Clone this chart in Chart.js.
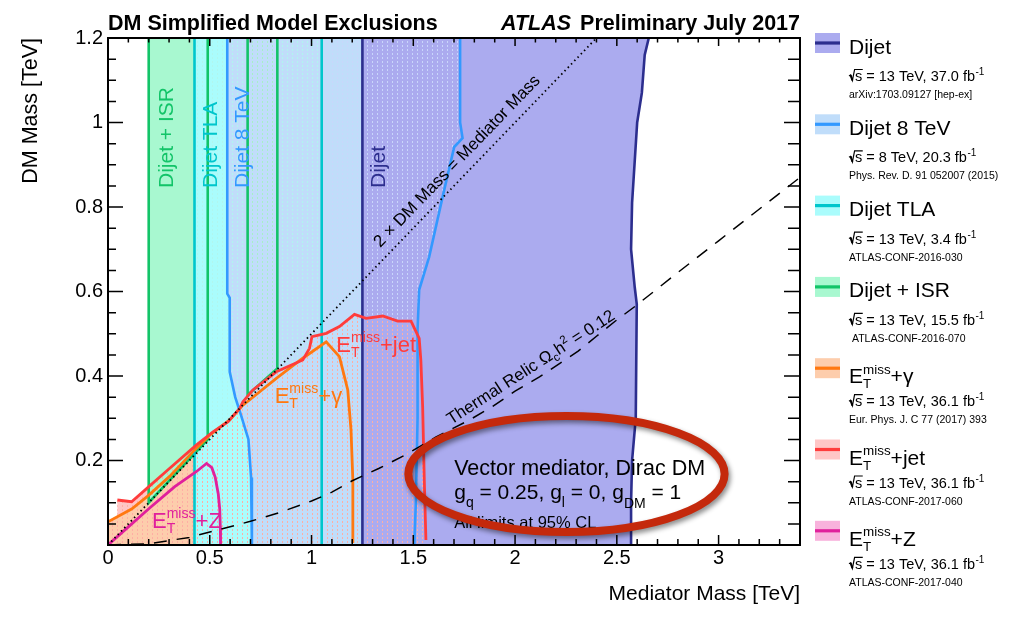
<!DOCTYPE html>
<html>
<head>
<meta charset="utf-8">
<script src="https://cdn.jsdelivr.net/npm/chart.js@4/dist/chart.umd.min.js"></script>
<style>
html, body { margin: 0; padding: 0; background: #fff; }
canvas { display: block; }
</style>
</head>
<body>
<canvas id="c" width="1029" height="620"></canvas>
<script>
// ---- Exclusion contours: [mediator mass (TeV), DM mass (TeV)] ----
const dijetLeft   = [[1.25, 1.2], [1.25, 0]];
const dijetRight  = [[2.57, 0], [2.57, 0.1], [2.575, 0.2], [2.593, 0.3], [2.598, 0.57], [2.588, 0.61],
                     [2.57, 0.7], [2.575, 0.81], [2.6, 1.0], [2.623, 1.07], [2.637, 1.16], [2.657, 1.2]];
const dijet8Left  = [[0.586, 1.2], [0.586, 0.595], [0.598, 0.585], [0.598, 0.41], [0.625, 0.35], [0.655, 0.305],
                     [0.69, 0.25], [0.703, 0.16], [0.707, 0.05], [0.707, 0]];
const dijet8Right = [[1.505, 0], [1.513, 0.107], [1.521, 0.3], [1.521, 0.51], [1.529, 0.604], [1.578, 0.682],
                     [1.644, 0.824], [1.701, 0.942], [1.742, 0.963], [1.73, 1.0], [1.73, 1.2]];
const tlaLeft     = [[0.425, 1.2], [0.425, 0]];
const tlaRight    = [[1.05, 0], [1.05, 1.2]];
const isrLow      = [[0.2, 1.2], [0.2, 0.1], [0.49, 0.25], [0.49, 1.2]];
const isrHigh     = [[0.686, 1.2], [0.686, 0.355], [0.832, 0.418], [0.832, 1.2]];
const metJet      = [[0.046, 0.1065], [0.116, 0.1025], [0.198, 0.137], [0.288, 0.175], [0.435, 0.237], [0.516, 0.268],
                     [0.59, 0.292], [0.647, 0.3235], [0.663, 0.339], [0.712, 0.367], [0.827, 0.41], [0.957, 0.438],
                     [0.99, 0.4655], [1.002, 0.493], [1.072, 0.501], [1.137, 0.517], [1.211, 0.546], [1.268, 0.5365],
                     [1.35, 0.542], [1.423, 0.53], [1.489, 0.53], [1.529, 0.489], [1.537, 0.438], [1.546, 0.327],
                     [1.554, 0.154], [1.562, 0.012]];
const metGamma    = [[0, 0.055], [0.116, 0.085], [0.198, 0.117], [0.304, 0.163], [0.418, 0.221], [0.5, 0.26],
                     [0.598, 0.296], [0.663, 0.331], [0.827, 0.3945], [0.957, 0.442], [1.072, 0.481], [1.137, 0.446],
                     [1.178, 0.367], [1.194, 0.272], [1.203, 0.154], [1.203, 0.005]];
const metZ        = [[0, 0], [0.1, 0.043], [0.206, 0.088], [0.328, 0.138], [0.435, 0.174], [0.484, 0.193],
                     [0.51, 0.183], [0.527, 0.16], [0.542, 0.12], [0.549, 0.085], [0.552, 0.04], [0.553, 0]];
const relicLine   = [[0, 0], [0.2, 0.003], [0.4, 0.018], [0.55, 0.037], [0.7, 0.056], [0.85, 0.078], [1.0, 0.104],
                     [1.1, 0.125], [1.2, 0.152], [1.33, 0.181], [1.46, 0.213], [1.61, 0.255], [1.78, 0.297],
                     [1.89, 0.328], [2.0, 0.364], [2.12, 0.398], [2.22, 0.43], [2.31, 0.459], [2.4, 0.494],
                     [2.49, 0.529], [2.59, 0.565], [2.8, 0.645], [3.0, 0.72], [3.245, 0.812], [3.4, 0.87]];
const diagonal    = [[0, 0], [2.4, 1.2]];

// ---- Axis ticks (the zero on the DM axis is left unlabelled) ----
const xTickValues = [0, 0.5, 1, 1.5, 2, 2.5, 3];
const xTickLabels = ['0', '0.5', '1', '1.5', '2', '2.5', '3'];
const yTickValues = [0, 0.2, 0.4, 0.6, 0.8, 1, 1.2];
const yTickLabels = ['', '0.2', '0.4', '0.6', '0.8', '1', '1.2'];

// ---- Legend text ----
const legendTitles = ['Dijet', 'Dijet 8 TeV', 'Dijet TLA', 'Dijet + ISR', 'E_T^miss+γ', 'E_T^miss+jet', 'E_T^miss+Z'];
const legendEnergy = ['13', '8', '13', '13', '13', '13', '13'];
const legendLumi   = ['37.0', '20.3', '3.4', '15.5', '36.1', '36.1', '36.1'];
const legendRefs   = ['arXiv:1703.09127 [hep-ex]', 'Phys. Rev. D. 91 052007 (2015)', 'ATLAS-CONF-2016-030',
                      ' ATLAS-CONF-2016-070', 'Eur. Phys. J. C 77 (2017) 393', 'ATLAS-CONF-2017-060', 'ATLAS-CONF-2017-040'];

// ---- Styles ----
const FF = '"Liberation Sans", Arial, Helvetica, sans-serif';
const font = (size, weight, style) => [style || '', weight || '', size + 'px', FF].join(' ').trim();
const COL = {
  dijetFill: '#ababef', dijetLine: '#2c2e8e',
  d8Fill: '#c0ddfa',    d8Line: '#3399ff',
  tlaFill: '#aafcfc',   tlaLine: '#00c6cc',
  isrFill: '#a8f8d0',   isrLine: '#12c468',
  gamFill: '#fdcdac',   gamLine: '#ff7810',
  jetFill: '#ffc6c6',   jetLine: '#ff3c3c',
  zFill: '#f8b2dc',     zLine: '#e0209c'
};
const legendFill = [COL.dijetFill, COL.d8Fill, COL.tlaFill, COL.isrFill, COL.gamFill, COL.jetFill, COL.zFill];
const legendLine = [COL.dijetLine, COL.d8Line, COL.tlaLine, COL.isrLine, COL.gamLine, COL.jetLine, COL.zLine];

// small dotted texture used where two exclusion areas overlap
function dots(color) {
  const t = document.createElement('canvas');
  t.width = 5; t.height = 4;
  const g = t.getContext('2d');
  g.fillStyle = color;
  g.fillRect(2, 1, 1, 2);
  return g.createPattern(t, 'repeat');
}

const toXY = pts => pts.map(p => ({ x: p[0], y: p[1] }));

// closed areas
const dijetArea  = dijetLeft.concat(dijetRight);
const dijet8Area = dijet8Left.concat(dijet8Right);
const tlaArea    = tlaLeft.concat(tlaRight);
const jetArea    = [[0.046, 0]].concat(metJet, [[1.562, 0]]);
const gamArea    = [[0, 0]].concat(metGamma, [[1.203, 0]]);
const zArea      = metZ;

const layers = [];
const addFill = (pts, color) => layers.push({ data: toXY(pts), backgroundColor: color,
  borderColor: 'rgba(0,0,0,0)', borderWidth: 0, fill: 'shape' });
const addLine = (pts, color, width, dash) => layers.push({ data: toXY(pts), borderColor: color,
  borderWidth: width, borderDash: dash || [], fill: false, backgroundColor: 'rgba(0,0,0,0)' });

// bottom to top
addFill(zArea, COL.zFill);
addFill(jetArea, COL.jetFill);
addFill(gamArea, COL.gamFill);
addFill(isrLow, COL.isrFill);
addFill(isrHigh, COL.isrFill);
addFill(tlaArea, COL.tlaFill);
addFill(dijet8Area, COL.d8Fill);
addFill(dijetArea, COL.dijetFill);
addFill(dijet8Area, dots('#c9d6fb'));
addFill(tlaArea, dots('#b0f6ee'));
addFill(isrHigh, dots('#a6efc8'));
addFill(jetArea, dots('#ffaea4'));
addFill(gamArea, dots('#ffaea4'));

addLine(isrLow, COL.isrLine, 2.6);
addLine(isrHigh, COL.isrLine, 2.6);
addLine(tlaLeft, COL.tlaLine, 2.6);
addLine(tlaRight, COL.tlaLine, 2.6);
addLine(dijet8Left, COL.d8Line, 2.6);
addLine(dijet8Right, COL.d8Line, 2.6);
addLine(dijetLeft, COL.dijetLine, 2.6);
addLine(dijetRight, COL.dijetLine, 2.6);
addLine(metZ, COL.zLine, 2.8);
addLine(metGamma, COL.gamLine, 2.8);
addLine(metJet, COL.jetLine, 2.8);
addLine(diagonal, '#000', 1.8, [1.5, 3.2]);
addLine(relicLine, '#000', 1.5, [13, 10]);

const datasets = layers.map((d, i) => Object.assign({
  showLine: true, pointRadius: 0, pointHoverRadius: 0, tension: 0, order: layers.length - i
}, d));

// E_T^miss label with subscript / superscript
function drawMet(ctx, x, y, size, suffix) {
  ctx.textAlign = 'left';
  ctx.textBaseline = 'alphabetic';
  ctx.font = font(size);
  ctx.fillText('E', x, y);
  const wE = ctx.measureText('E').width;
  ctx.font = font(size * 0.64);
  ctx.fillText('T', x + wE, y + size * 0.24);
  ctx.fillText('miss', x + wE, y - size * 0.46);
  const w = Math.max(ctx.measureText('T').width, ctx.measureText('miss').width);
  ctx.font = font(size);
  ctx.fillText(suffix, x + wE + w, y);
}

// sequence of text pieces: [text, size, baseline shift]
function drawPieces(ctx, x, y, pieces) {
  let cx = x;
  for (const [t, size, dy] of pieces) {
    ctx.font = font(size);
    ctx.fillText(t, cx, y + dy);
    cx += ctx.measureText(t).width;
  }
}

const frameTicks = {
  id: 'frameTicks',
  afterDatasetsDraw(chart) {
    const { ctx, chartArea: a, scales: { x, y } } = chart;
    ctx.save();
    ctx.strokeStyle = '#000';
    ctx.lineWidth = 1.5;
    ctx.beginPath();
    for (let i = 0; i <= 34; i++) {
      const px = x.getPixelForValue(i / 10);
      const major = i % 5 === 0;
      ctx.moveTo(px, a.bottom); ctx.lineTo(px, a.bottom - (major ? 10 : 6));
      ctx.moveTo(px, a.top); ctx.lineTo(px, a.top + (major ? 8 : 4.5));
    }
    for (let i = 0; i <= 24; i++) {
      const py = y.getPixelForValue(i * 0.05);
      const major = i % 4 === 0;
      ctx.moveTo(a.left, py); ctx.lineTo(a.left + (major ? 15 : 8), py);
      ctx.moveTo(a.right, py); ctx.lineTo(a.right - (major ? 16 : 12), py);
    }
    ctx.stroke();
    ctx.lineWidth = 2;
    ctx.strokeRect(a.left, a.top, a.right - a.left, a.bottom - a.top);
    ctx.restore();
  }
};

const notes = {
  id: 'notes',
  afterDatasetsDraw(chart) {
    const { ctx, scales: { x, y } } = chart;
    const px = v => x.getPixelForValue(v);
    const py = v => y.getPixelForValue(v);
    ctx.save();
    ctx.textBaseline = 'alphabetic';
    ctx.textAlign = 'left';

    // vertical analysis names
    const vLabel = (text, xv, yv, color) => {
      ctx.save();
      ctx.translate(px(xv), py(yv));
      ctx.rotate(-Math.PI / 2);
      ctx.fillStyle = color;
      ctx.font = font(21);
      ctx.fillText(text, 0, 0);
      ctx.restore();
    };
    vLabel('Dijet + ISR', 0.319, 0.845, COL.isrLine);
    vLabel('Dijet TLA', 0.534, 0.845, COL.tlaLine);
    vLabel('Dijet 8 TeV', 0.691, 0.845, COL.d8Line);
    vLabel('Dijet', 1.363, 0.845, COL.dijetLine);

    // mono-X labels
    ctx.fillStyle = COL.jetLine;
    drawMet(ctx, px(1.122), py(0.457), 22, '+jet');
    ctx.fillStyle = COL.gamLine;
    drawMet(ctx, px(0.819), py(0.336), 22, '+γ');
    ctx.fillStyle = COL.zLine;
    drawMet(ctx, px(0.216), py(0.040), 22, '+Z');

    // diagonal label
    ctx.fillStyle = '#000';
    ctx.save();
    const d0 = diagonal[0], d1 = diagonal[1];
    const angD = Math.atan2(py(d1[1]) - py(d0[1]), px(d1[0]) - px(d0[0]));
    ctx.translate(px(1.338), py(0.703));
    ctx.rotate(angD);
    ctx.font = font(17);
    ctx.fillText('2 × DM Mass = Mediator Mass', 0, 0);
    ctx.restore();

    // relic label
    ctx.save();
    const angR = Math.atan2(py(0.529) - py(0.255), px(2.49) - px(1.61));
    ctx.translate(px(1.686), py(0.284));
    ctx.rotate(angR);
    drawPieces(ctx, 0, 0, [['Thermal Relic ', 17, 0], ['Ω', 17, 0], ['c', 11.5, 4], ['h', 17, 0],
      ['2', 11.5, -7], [' = 0.12', 17, 0]]);
    ctx.restore();

    // model description
    drawPieces(ctx, px(1.701), py(0.1657), [['Vector mediator, Dirac DM', 21.5, 0]]);
    drawPieces(ctx, px(1.701), py(0.109), [['g', 21, 0], ['q', 14, 8], [' = 0.25, g', 21, 0], ['l', 14, 8],
      [' = 0, g', 21, 0], ['DM', 14, 9], [' = 1', 21, 0]]);
    drawPieces(ctx, px(1.701), py(0.0403), [['All limits at 95% CL', 16.5, 0]]);

    // highlight ring
    const cx = px(2.2525), cy = py(0.168);
    const rx = px(2.2525 + 0.777) - cx, ry = cy - py(0.168 + 0.1373);
    ctx.save();
    ctx.shadowColor = 'rgba(0,0,0,0.45)';
    ctx.shadowBlur = 5;
    ctx.shadowOffsetX = 2;
    ctx.shadowOffsetY = 3;
    ctx.strokeStyle = '#c4290c';
    ctx.lineWidth = 8;
    ctx.beginPath();
    ctx.ellipse(cx, cy, rx, ry, 0, 0, Math.PI * 2);
    ctx.stroke();
    ctx.restore();
    ctx.restore();
  }
};

const panel = {
  id: 'panel',
  afterDraw(chart) {
    const { ctx, chartArea: a } = chart;
    ctx.save();
    ctx.fillStyle = '#000';
    ctx.textBaseline = 'alphabetic';

    // header
    ctx.textAlign = 'left';
    ctx.font = font(21.5, 'bold');
    ctx.fillText('DM Simplified Model Exclusions', a.left, 29.5);
    ctx.textAlign = 'right';
    const tail = 'Preliminary July 2017';
    ctx.fillText(tail, a.right, 29.5);
    const wTail = ctx.measureText(tail).width;
    ctx.font = font(21.5, 'bold', 'italic');
    ctx.fillText('ATLAS', a.right - wTail - 9, 29.5);

    // legend
    ctx.textAlign = 'left';
    const sx = a.right + 15;
    const tx = a.right + 49;
    legendTitles.forEach((title, i) => {
      const c = 43 + 81.3 * i;
      ctx.fillStyle = legendFill[i];
      ctx.fillRect(sx, c - 10, 25, 20);
      ctx.fillStyle = legendLine[i];
      ctx.fillRect(sx, c - 1.6, 25, 3.2);
      ctx.fillStyle = '#000';
      if (title.startsWith('E_T^miss')) {
        drawMet(ctx, tx, c + 15, 21, title.slice(8));
      } else {
        ctx.font = font(21);
        ctx.fillText(title, tx, c + 10.5);
      }
      // sqrt(s) line
      const b = c + 38;
      ctx.font = font(14.5);
      const sw = ctx.measureText('s').width;
      ctx.strokeStyle = '#000';
      ctx.lineWidth = 1.2;
      ctx.beginPath();
      ctx.moveTo(tx, b - 5);
      ctx.lineTo(tx + 1.6, b - 6);
      ctx.lineTo(tx + 3.4, b - 0.5);
      ctx.lineTo(tx + 5.6, b - 11.5);
      ctx.lineTo(tx + 6.5 + sw, b - 11.5);
      ctx.stroke();
      ctx.lineWidth = 2;
      ctx.beginPath();
      ctx.moveTo(tx + 1.6, b - 6);
      ctx.lineTo(tx + 3.4, b - 0.5);
      ctx.stroke();
      ctx.fillText('s', tx + 6, b);
      const main = ' = ' + legendEnergy[i] + ' TeV, ' + legendLumi[i] + ' fb';
      ctx.fillText(main, tx + 6 + sw, b);
      const wm = ctx.measureText(main).width;
      ctx.font = font(10);
      ctx.fillText('-1', tx + 6.5 + sw + wm, b - 6);
      // reference
      ctx.font = font(10.5);
      ctx.fillText(legendRefs[i], tx, c + 55);
    });
    ctx.restore();
  }
};

new Chart(document.getElementById('c'), {
  type: 'line',
  data: { datasets },
  options: {
    responsive: false,
    animation: false,
    devicePixelRatio: 1,
    events: [],
    layout: { padding: { left: 0, right: 229, top: 38, bottom: 0 } },
    plugins: { legend: { display: false }, tooltip: { enabled: false } },
    elements: { point: { radius: 0 } },
    scales: {
      x: {
        type: 'linear', min: 0, max: 3.4,
        grid: { display: false, drawTicks: false },
        border: { display: false },
        afterBuildTicks: s => { s.ticks = xTickValues.map(v => ({ value: v })); },
        afterFit: s => { s.height = 75; },
        ticks: { font: { family: FF, size: 20 }, color: '#000', padding: 1, maxRotation: 0,
                 autoSkip: false, callback: (v, i) => xTickLabels[i] },
        title: { display: true, text: 'Mediator Mass [TeV]', align: 'end', color: '#000',
                 font: { family: FF, size: 21 }, padding: { top: 0, bottom: 13 } }
      },
      y: {
        type: 'linear', min: 0, max: 1.2,
        grid: { display: false, drawTicks: false },
        border: { display: false },
        afterBuildTicks: s => { s.ticks = yTickValues.map(v => ({ value: v })); },
        afterFit: s => { s.width = 108; },
        ticks: { font: { family: FF, size: 20 }, color: '#000', padding: 5, autoSkip: false,
                 callback: (v, i) => yTickLabels[i] },
        title: { display: true, text: 'DM Mass [TeV]', align: 'end', color: '#000',
                 font: { family: FF, size: 21.5 }, padding: { top: 18, bottom: 0 } }
      }
    }
  },
  plugins: [frameTicks, notes, panel]
});
</script>
</body>
</html>
